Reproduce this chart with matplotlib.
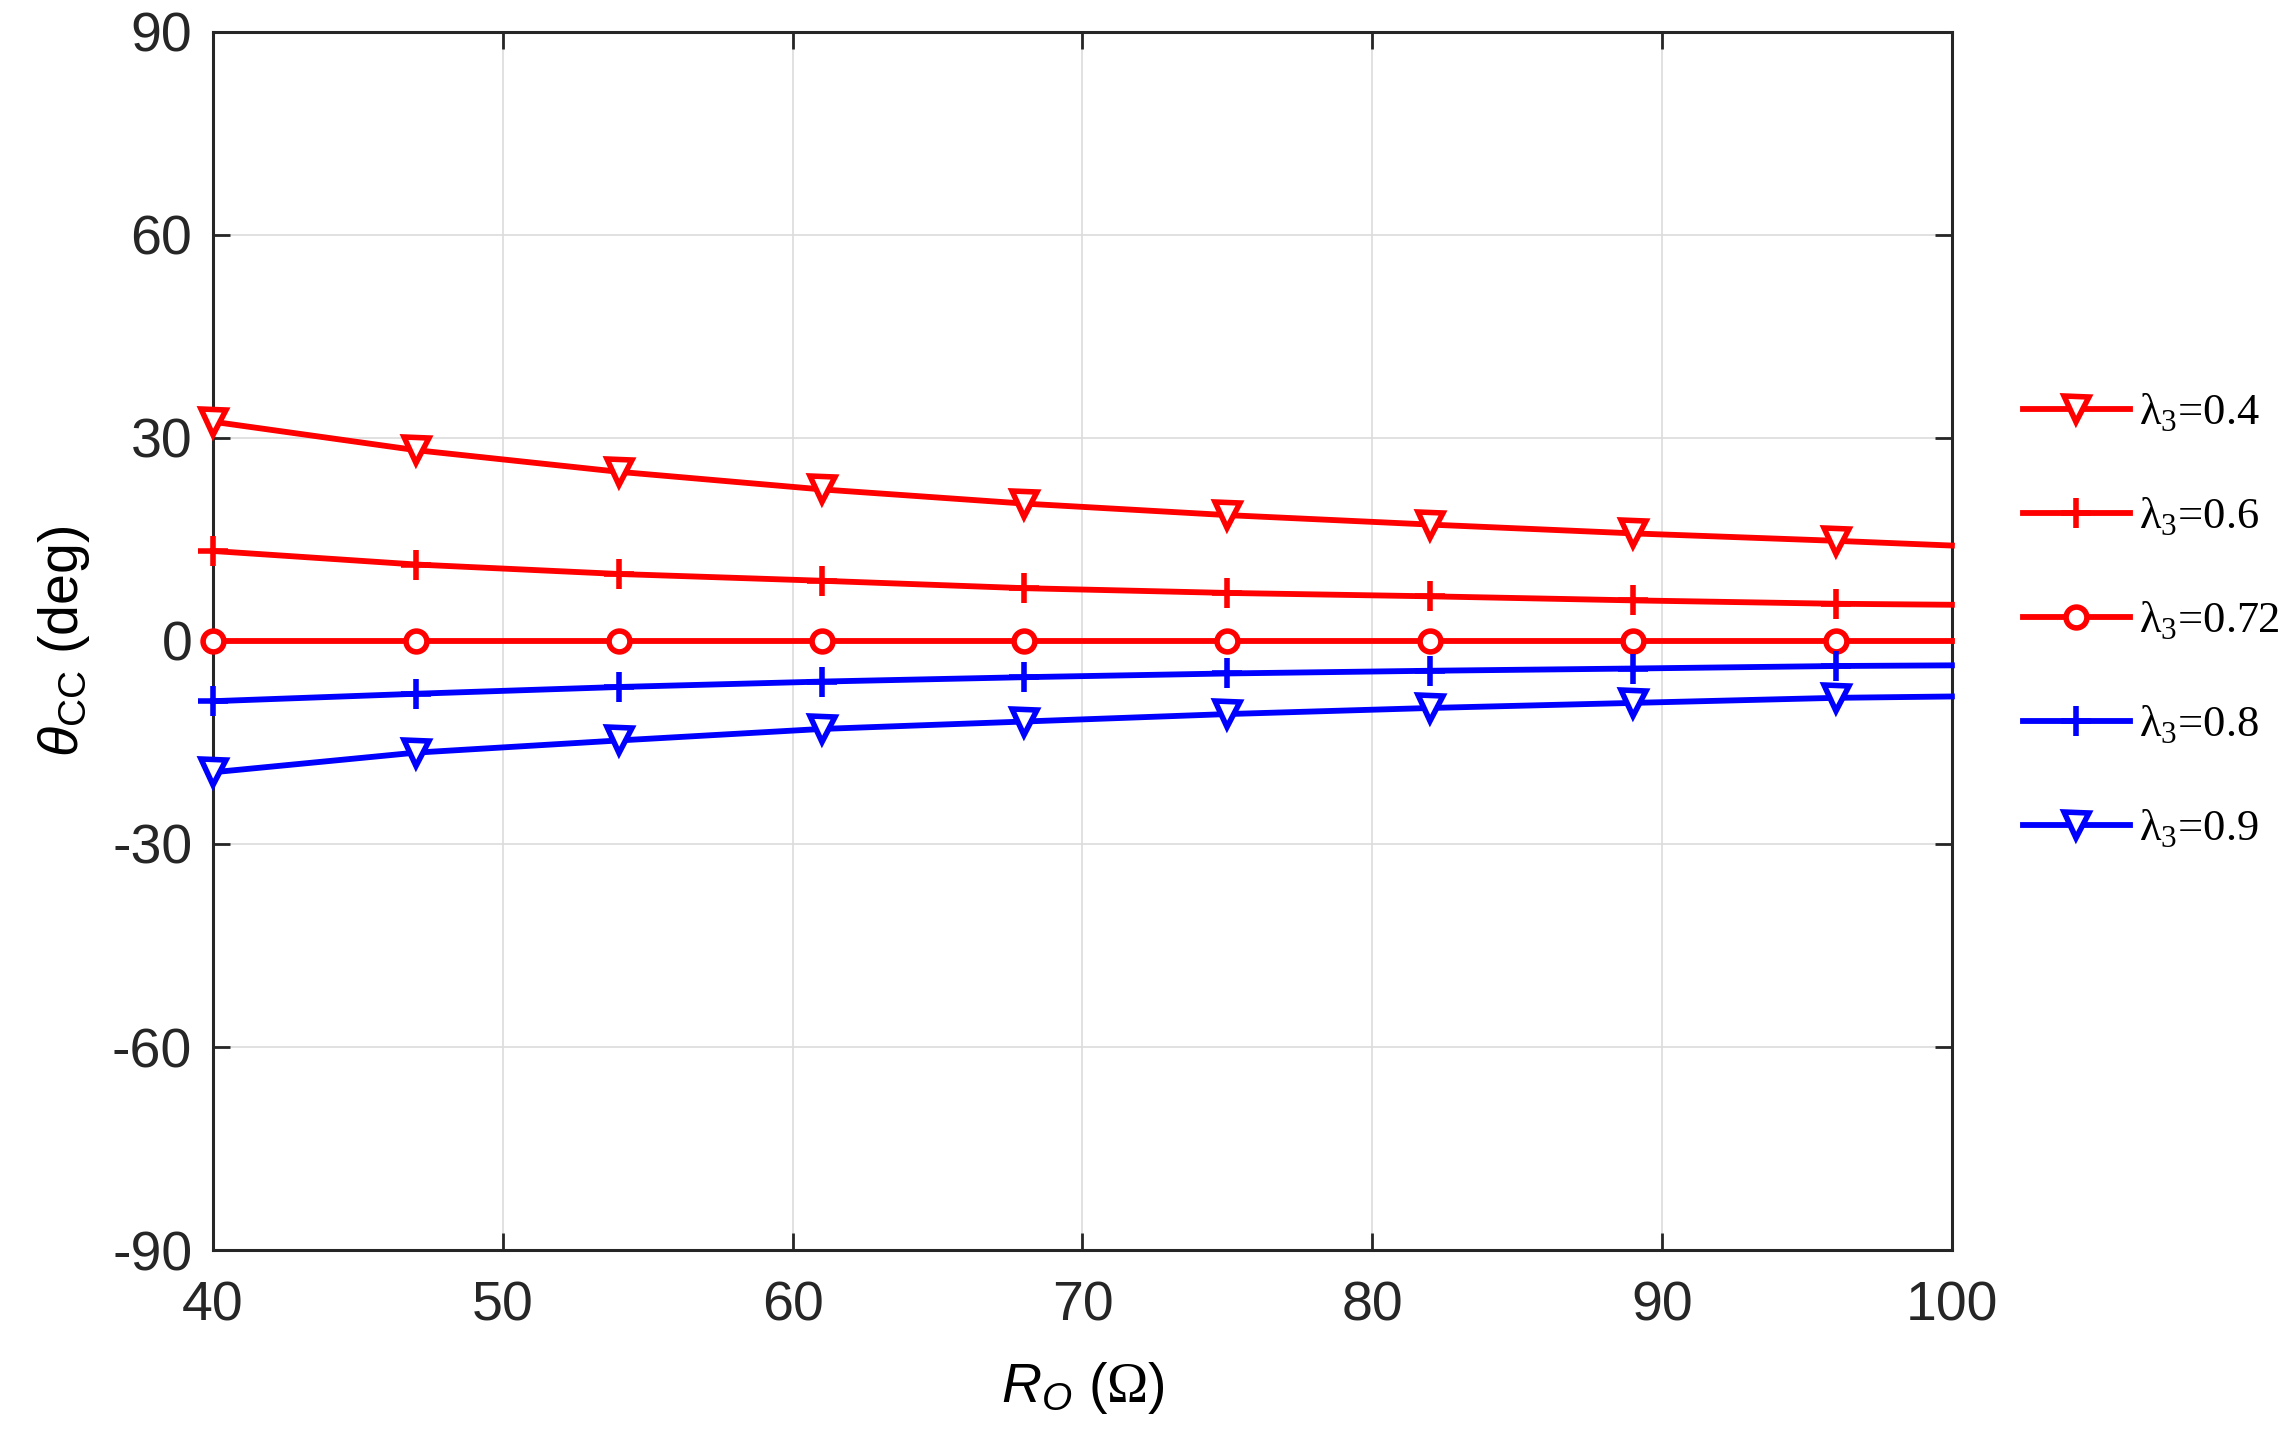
import matplotlib
matplotlib.use('Agg')
import matplotlib.pyplot as plt
import numpy as np

# values
r_o = [40, 47, 54, 61, 68, 75, 82, 89, 96, 100]
theta_04 = [32.4, 28.2, 25.0, 22.4, 20.3, 18.6, 17.2, 15.9, 14.8, 14.1]
theta_06 = [13.3, 11.3, 9.9, 8.9, 7.8, 7.1, 6.6, 6.0, 5.5, 5.35]
theta_072 = [0, 0, 0, 0, 0, 0, 0, 0, 0, 0]
theta_08 = [-8.9, -7.8, -6.8, -6.0, -5.35, -4.8, -4.4, -4.07, -3.7, -3.6]
theta_09 = [-19.4, -16.5, -14.7, -13.0, -11.9, -10.8, -9.9, -9.15, -8.4, -8.2]

labels = ['0.4', '0.6', '0.72', '0.8', '0.9']
x_ticks = [40, 50, 60, 70, 80, 90, 100]
y_ticks = [-90, -60, -30, 0, 30, 60, 90]

plt.rcParams['font.family'] = 'Liberation Sans'
plt.rcParams['axes.unicode_minus'] = False
plt.rcParams['mathtext.fontset'] = 'custom'
plt.rcParams['mathtext.rm'] = 'Liberation Serif'
plt.rcParams['mathtext.it'] = 'Liberation Sans:italic'
plt.rcParams['mathtext.sf'] = 'Liberation Sans'

fig = plt.figure(figsize=(22.88, 14.51), dpi=100)
ax = fig.add_axes([0.0931, 0.1385, 0.7600, 0.8395])

series = [
    (theta_04, 'red', 'v', 18),
    (theta_06, 'red', '+', 22),
    (theta_072, 'red', 'o', 15),
    (theta_08, 'blue', '+', 22),
    (theta_09, 'blue', 'v', 18),
]

for (vals, col, mk, ms), lab in zip(series, labels):
    ax.plot(r_o, vals, color=col, lw=4.2, marker=mk, ms=ms, mew=4,
            mfc='white' if mk != '+' else col, markevery=slice(0, 9),
            label=r'$\mathrm{\lambda}_\mathrm{3}$=' + lab, clip_on=False, zorder=3)

ax.set_xlim(40, 100)
ax.set_ylim(-90, 90)
ax.set_xticks(x_ticks)
ax.set_yticks(y_ticks)
ax.grid(True, color='#dcdcdc', lw=1.2)
ax.set_axisbelow(True)

for sp in ax.spines.values():
    sp.set_linewidth(2.2)
    sp.set_color('#262626')

ax.tick_params(direction='in', length=12, width=2, colors='#262626',
               top=True, right=True, labelsize=40)
ax.tick_params(axis='y', pad=15)
ax.tick_params(axis='x', pad=22)

ax.set_xlabel(r'$R_\mathit{O}$ ($\mathrm{\Omega}$)', fontsize=40, labelpad=20)
ax.set_ylabel(r'$\theta_\mathsf{CC}$ (deg)', fontsize=40, labelpad=14)

fig.legend(loc='center left', bbox_to_anchor=(2023 / 2288, 0.5724),
           frameon=False, borderpad=0, borderaxespad=0,
           prop={'family': 'Liberation Serif', 'size': 32},
           handlelength=2.4, handletextpad=0.2, labelspacing=1.39)

fig.savefig('out.png', dpi=100)
